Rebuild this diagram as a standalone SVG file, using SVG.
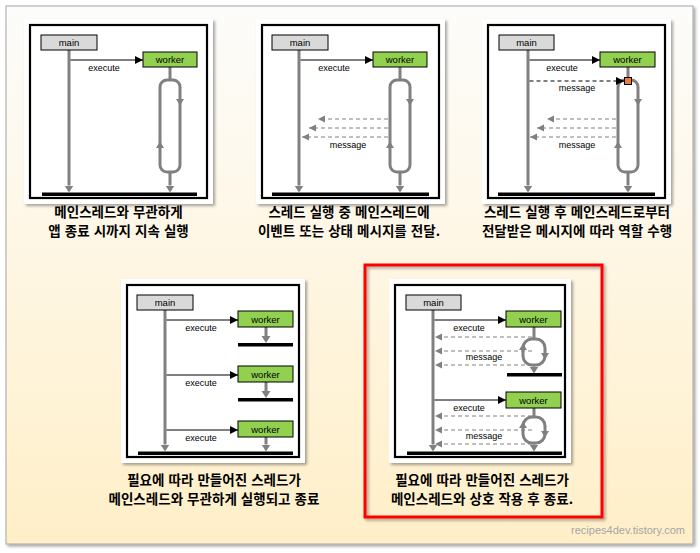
<svg xmlns="http://www.w3.org/2000/svg" xmlns:xlink="http://www.w3.org/1999/xlink" width="700" height="553" viewBox="0 0 700 553">
<defs>
  <linearGradient id="bg" x1="0" y1="0" x2="0" y2="1">
    <stop offset="0" stop-color="#FCFCFA"/>
    <stop offset="0.35" stop-color="#FEF8EA"/>
    <stop offset="1" stop-color="#FFEFC8"/>
  </linearGradient>
  <filter id="sh" x="-10%" y="-10%" width="130%" height="130%">
    <feDropShadow dx="2" dy="2" stdDeviation="1.5" flood-color="#000" flood-opacity="0.35"/>
  </filter>
  <marker id="ah" markerUnits="userSpaceOnUse" markerWidth="8" markerHeight="8" refX="8" refY="4" orient="auto">
    <path d="M0,0 L8,4 L0,8 z" fill="#000"/>
  </marker>
  <marker id="gh" markerUnits="userSpaceOnUse" markerWidth="9" markerHeight="10" refX="0" refY="5" orient="auto">
    <path d="M0,0.5 L7,5 L0,9.5 z" fill="#808080"/>
  </marker>
  <marker id="dh" markerUnits="userSpaceOnUse" markerWidth="8" markerHeight="8" refX="7" refY="4" orient="auto">
    <path d="M0,0.5 L7,4 L0,7.5 z" fill="#808080"/>
  </marker>
  <path id="tdown" d="M-4,-3 L4,-3 L0,3.5 z" fill="#808080"/>
  <path id="tup" d="M-4,3 L4,3 L0,-3.5 z" fill="#808080"/>
  <style>
    .panel{fill:#fff;filter:url(#sh)}
    .frame{fill:none;stroke:#000;stroke-width:2.2}
    .mainbox{fill:#D9D9D9;stroke:#000;stroke-width:1}
    .workbox{fill:#92D050;stroke:#000;stroke-width:1}
    .lbl{font-family:"Liberation Sans",Arial,sans-serif;font-size:9.5px;fill:#000;text-anchor:middle}
    .small{font-family:"Liberation Sans",Arial,sans-serif;font-size:9px;fill:#000;text-anchor:middle}
    .life{stroke:#808080;stroke-width:3;fill:none}
    .loop{stroke:#808080;stroke-width:3;fill:none}
    .exec{stroke:#000;stroke-width:1;fill:none;marker-end:url(#ah)}
    .msg{stroke:#808080;stroke-width:1;stroke-dasharray:4,3;fill:none;marker-end:url(#dh)}
    .bmsg{stroke:#000;stroke-width:1;stroke-dasharray:4,3;fill:none;marker-end:url(#ah)}
    .bar{fill:#000}
    .cap{font-family:"Noto Sans CJK KR","Noto Sans",sans-serif;font-size:13.5px;font-weight:bold;word-spacing:1px;fill:#000;text-anchor:middle}
  </style>
</defs>

<!-- background frame -->
<rect x="6" y="6" width="687" height="538" fill="url(#bg)" stroke="#A6A6A6" stroke-width="1" filter="url(#sh)"/>

<!-- Panel 1 -->
<g id="panel1">
  <rect class="panel" x="24" y="19" width="189" height="185"/>
  <rect class="frame" x="30" y="25" width="177" height="173"/>
  <rect class="bar" x="42" y="192.5" width="155" height="3.5"/>
  <g id="p1-connectors">
    <line class="life" x1="69" y1="50" x2="69" y2="185.5" marker-end="url(#gh)"/>
    <line class="exec" x1="70.5" y1="60" x2="143" y2="60"/>
    <line class="life" x1="170" y1="67" x2="170" y2="81"/>
    <rect class="loop" x="160" y="80" width="20" height="92" rx="7"/>
    <use href="#tdown" x="180" y="102"/>
    <use href="#tup" x="160" y="145"/>
    <line class="life" x1="170" y1="172" x2="170" y2="185.5" marker-end="url(#gh)"/>
  </g>
  <text class="small" x="104" y="71">execute</text>
  <g id="p1-main"><rect class="mainbox" x="41" y="35" width="56" height="15"/><text class="lbl" x="69" y="46">main</text></g>
  <g id="p1-worker"><rect class="workbox" x="143" y="52" width="54" height="15"/><text class="lbl" x="170" y="63">worker</text></g>
</g>

<!-- Panel 2 -->
<g id="panel2" transform="translate(230,0)">
  <rect class="panel" x="26" y="19" width="189" height="185"/>
  <rect class="frame" x="32" y="25" width="177" height="173"/>
  <rect class="bar" x="42" y="192.5" width="157" height="3.5"/>
  <g id="p2-connectors">
    <line class="life" x1="69" y1="50" x2="69" y2="185.5" marker-end="url(#gh)"/>
    <line class="exec" x1="70.5" y1="60" x2="143" y2="60"/>
    <line class="life" x1="170" y1="67" x2="170" y2="81"/>
    <rect class="loop" x="160" y="80" width="20" height="92" rx="7"/>
    <use href="#tdown" x="180" y="102"/>
    <use href="#tup" x="160" y="145"/>
    <line class="life" x1="170" y1="172" x2="170" y2="185.5" marker-end="url(#gh)"/>
    <line class="msg" x1="158" y1="119" x2="88" y2="119"/>
    <line class="msg" x1="158" y1="128" x2="79" y2="128"/>
    <line class="msg" x1="158" y1="137" x2="72" y2="137"/>
  </g>
  <text class="small" x="104" y="71">execute</text>
  <text class="small" x="118" y="148">message</text>
  <g id="p2-main"><rect class="mainbox" x="42" y="35" width="56" height="15"/><text class="lbl" x="70" y="46">main</text></g>
  <g id="p2-worker"><rect class="workbox" x="143" y="52" width="54" height="15"/><text class="lbl" x="170" y="63">worker</text></g>
</g>

<!-- Panel 3 -->
<g id="panel3" transform="translate(458,0)">
  <rect class="panel" x="24" y="19" width="189" height="185"/>
  <rect class="frame" x="30" y="25" width="177" height="173"/>
  <rect class="bar" x="40" y="192.5" width="157" height="3.5"/>
  <g id="p3-connectors">
    <line class="life" x1="70" y1="50" x2="70" y2="185.5" marker-end="url(#gh)"/>
    <line class="exec" x1="71.5" y1="60" x2="142" y2="60"/>
    <line class="life" x1="170" y1="67" x2="170" y2="81"/>
    <rect class="loop" x="160" y="80" width="20" height="92" rx="7"/>
    <use href="#tdown" x="180" y="102"/>
    <use href="#tup" x="160" y="145"/>
    <line class="life" x1="170" y1="172" x2="170" y2="185.5" marker-end="url(#gh)"/>
    <line class="bmsg" x1="71.5" y1="81" x2="166" y2="81"/>
    <line class="msg" x1="158" y1="119" x2="89" y2="119"/>
    <line class="msg" x1="158" y1="128" x2="79" y2="128"/>
    <line class="msg" x1="158" y1="137" x2="72" y2="137"/>
  </g>
  <rect x="166.5" y="77.5" width="7" height="7" fill="#ED7D31" stroke="#000" stroke-width="1"/>
  <text class="small" x="104" y="71">execute</text>
  <text class="small" x="119" y="91">message</text>
  <text class="small" x="119" y="148">message</text>
  <g id="p3-main"><rect class="mainbox" x="41" y="35" width="55" height="15"/><text class="lbl" x="68.5" y="46">main</text></g>
  <g id="p3-worker"><rect class="workbox" x="142" y="52" width="55" height="15"/><text class="lbl" x="169.5" y="63">worker</text></g>
</g>

<!-- Panel 4 -->
<g id="panel4">
  <rect class="panel" x="121" y="279" width="184" height="184"/>
  <rect class="frame" x="127" y="285" width="172" height="172"/>
  <rect class="bar" x="238" y="343" width="55" height="3.5"/>
  <rect class="bar" x="238" y="398" width="55" height="3.5"/>
  <rect class="bar" x="138" y="451.5" width="155" height="3.5"/>
  <g id="p4-connectors">
    <line class="life" x1="165" y1="310" x2="165" y2="444.5" marker-end="url(#gh)"/>
    <line class="exec" x1="166.5" y1="320" x2="238" y2="320"/>
    <line class="exec" x1="166.5" y1="375" x2="238" y2="375"/>
    <line class="exec" x1="166.5" y1="430" x2="238" y2="430"/>
    <line class="life" x1="266" y1="327" x2="266" y2="336" marker-end="url(#gh)"/>
    <line class="life" x1="266" y1="382" x2="266" y2="391" marker-end="url(#gh)"/>
    <line class="life" x1="266" y1="437" x2="266" y2="444.5" marker-end="url(#gh)"/>
  </g>
  <text class="small" x="201" y="331">execute</text>
  <text class="small" x="201" y="386">execute</text>
  <text class="small" x="201" y="441">execute</text>
  <g id="p4-main"><rect class="mainbox" x="137" y="295" width="56" height="15"/><text class="lbl" x="165" y="306">main</text></g>
  <g id="p4-worker1"><rect class="workbox" x="238" y="311" width="55" height="16"/><text class="lbl" x="265.5" y="322.5">worker</text></g>
  <g id="p4-worker2"><rect class="workbox" x="238" y="366" width="55" height="16"/><text class="lbl" x="265.5" y="377.5">worker</text></g>
  <g id="p4-worker3"><rect class="workbox" x="238" y="421" width="55" height="16"/><text class="lbl" x="265.5" y="432.5">worker</text></g>
</g>

<!-- Panel 5 -->
<g id="panel5">
  <rect class="panel" x="389" y="279" width="182" height="184"/>
  <rect class="frame" x="395" y="285" width="170" height="172"/>
  <rect class="bar" x="507" y="373" width="55" height="3.5"/>
  <rect class="bar" x="407" y="451.5" width="155" height="3.5"/>
  <g id="p5-connectors">
    <line class="life" x1="433" y1="310" x2="433" y2="444.5" marker-end="url(#gh)"/>
    <line class="exec" x1="434.5" y1="320" x2="506" y2="320"/>
    <line class="exec" x1="434.5" y1="400" x2="506" y2="400"/>
    <line class="msg" x1="532" y1="337" x2="435" y2="337"/>
    <line class="msg" x1="532" y1="351" x2="435" y2="351"/>
    <line class="msg" x1="532" y1="365" x2="435" y2="365"/>
    <line class="msg" x1="532" y1="416" x2="435" y2="416"/>
    <line class="msg" x1="532" y1="430" x2="435" y2="430"/>
    <line class="msg" x1="532" y1="444" x2="435" y2="444"/>
    <line class="life" x1="534" y1="327" x2="534" y2="340"/>
    <rect class="loop" x="523" y="339" width="22" height="26" rx="9"/>
    <use href="#tup" x="523" y="347"/>
    <use href="#tdown" x="545" y="356"/>
    <line class="life" x1="534" y1="365" x2="534" y2="366.5" marker-end="url(#gh)"/>
    <line class="life" x1="534" y1="408" x2="534" y2="418"/>
    <rect class="loop" x="523" y="417" width="22" height="26" rx="9"/>
    <use href="#tup" x="523" y="425"/>
    <use href="#tdown" x="545" y="434"/>
    <line class="life" x1="534" y1="443" x2="534" y2="444.5" marker-end="url(#gh)"/>
  </g>
  <text class="small" x="469" y="331">execute</text>
  <text class="small" x="484" y="360">message</text>
  <text class="small" x="469" y="411">execute</text>
  <text class="small" x="484" y="439">message</text>
  <g id="p5-main"><rect class="mainbox" x="406" y="295" width="55" height="15"/><text class="lbl" x="433.5" y="306">main</text></g>
  <g id="p5-worker1"><rect class="workbox" x="506" y="311" width="55" height="16"/><text class="lbl" x="533.5" y="322.5">worker</text></g>
  <g id="p5-worker2"><rect class="workbox" x="506" y="392" width="55" height="16"/><text class="lbl" x="533.5" y="403.5">worker</text></g>
</g>

<rect id="highlight" x="365" y="265" width="237" height="252" fill="none" stroke="#FF0000" stroke-width="3" filter="url(#sh)"/>

<!-- captions -->
<text class="cap" x="118.5" y="217">메인스레드와 무관하게</text>
<text class="cap" x="118.5" y="236">앱 종료 시까지 지속 실행</text>
<text class="cap" x="349" y="217">스레드 실행 중 메인스레드에</text>
<text class="cap" x="349" y="236">이벤트 또는 상태 메시지를 전달.</text>
<text class="cap" x="577" y="217">스레드 실행 후 메인스레드로부터</text>
<text class="cap" x="577" y="236">전달받은 메시지에 따라 역할 수행</text>
<text class="cap" x="214" y="485">필요에 따라 만들어진 스레드가</text>
<text class="cap" x="214" y="504">메인스레드와 무관하게 실행되고 종료</text>
<text class="cap" x="482" y="485">필요에 따라 만들어진 스레드가</text>
<text class="cap" x="482" y="504">메인스레드와 상호 작용 후 종료.</text>

<text x="685" y="534" font-family="'Liberation Sans',Arial,sans-serif" font-size="11" fill="#A6A6A6" text-anchor="end">recipes4dev.tistory.com</text>
</svg>
